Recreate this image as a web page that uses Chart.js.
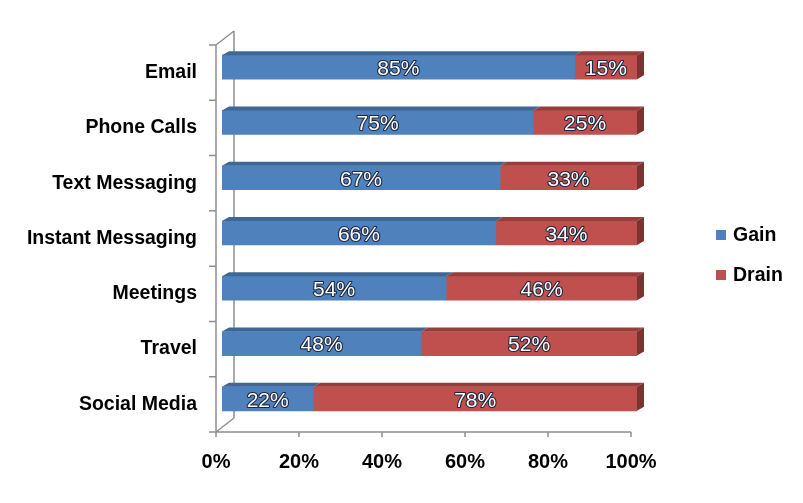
<!DOCTYPE html>
<html>
<head>
<meta charset="utf-8">
<script src="https://cdn.jsdelivr.net/npm/chart.js@4/dist/chart.umd.min.js"></script>
<style>
  body { margin: 0; background: #fff; }
  #wrap { width: 803px; height: 503px; }
</style>
</head>
<body>
<div id="wrap"><canvas id="barChart"></canvas></div>
<script>
// data
const categories = ["Email", "Phone Calls", "Text Messaging", "Instant Messaging", "Meetings", "Travel", "Social Media"];
const gainValues = [85, 75, 67, 66, 54, 48, 22];
const drainValues = [15, 25, 33, 34, 46, 52, 78];
const xTicks = [0, 20, 40, 60, 80, 100];

const FONT = "Arial, 'Liberation Sans', sans-serif";
const frontColors = ["#4F81BD", "#C0504D"];
const topColors = ["#3E6795", "#953E3C"];
const sideColor = "#7D3230";
const DEPTH_X = 7, DEPTH_Y = 4;

// 3D look: top faces + right side of the last segment, then the value labels
const bar3d = {
  id: "bar3d",
  beforeDatasetsDraw(chart) {
    const ctx = chart.ctx;
    const xs = chart.scales.x, ys = chart.scales.y;
    const fx = -6, fy = 5.5;   // front axis offset
    const bx = 12, by = -8.5;  // back wall offset
    const top = ys.top, bottom = ys.bottom;
    const x0 = xs.getPixelForValue(0);
    ctx.save();
    ctx.strokeStyle = "#8F8F8F";
    ctx.lineWidth = 1.5;
    ctx.beginPath();
    // front vertical axis
    ctx.moveTo(x0 + fx, top + fy);
    ctx.lineTo(x0 + fx, bottom + fy);
    // left ticks on category borders
    const n = categories.length;
    for (let i = 0; i <= n; i++) {
      const y = top + (bottom - top) * i / n + fy;
      ctx.moveTo(x0 + fx - 7, y);
      ctx.lineTo(x0 + fx, y);
    }
    // back wall edge
    ctx.moveTo(x0 + bx, top + by);
    ctx.lineTo(x0 + bx, bottom + by);
    ctx.moveTo(x0 + fx, top + fy);
    ctx.lineTo(x0 + bx, top + by);
    ctx.moveTo(x0 + fx, bottom + fy);
    ctx.lineTo(x0 + bx, bottom + by);
    // bottom axis with ticks
    const x100 = xs.getPixelForValue(100);
    ctx.moveTo(x0 + fx, bottom + fy);
    ctx.lineTo(x100 + fx, bottom + fy);
    xTicks.forEach((v) => {
      const x = xs.getPixelForValue(v) + fx;
      ctx.moveTo(x, bottom + fy);
      ctx.lineTo(x, bottom + fy + 5);
    });
    ctx.stroke();
    ctx.restore();
  },
  afterDatasetsDraw(chart) {
    const ctx = chart.ctx;
    const last = chart.data.datasets.length - 1;
    ctx.save();
    chart.data.datasets.forEach((ds, di) => {
      chart.getDatasetMeta(di).data.forEach((el) => {
        const h = el.height;
        const yt = el.y - h / 2, yb = el.y + h / 2;
        ctx.fillStyle = topColors[di];
        ctx.beginPath();
        ctx.moveTo(el.base, yt);
        ctx.lineTo(el.x, yt);
        ctx.lineTo(el.x + DEPTH_X, yt - DEPTH_Y);
        ctx.lineTo(el.base + DEPTH_X, yt - DEPTH_Y);
        ctx.closePath();
        ctx.fill();
        if (di === last) {
          ctx.fillStyle = sideColor;
          ctx.beginPath();
          ctx.moveTo(el.x, yt);
          ctx.lineTo(el.x + DEPTH_X, yt - DEPTH_Y);
          ctx.lineTo(el.x + DEPTH_X, yb - DEPTH_Y);
          ctx.lineTo(el.x, yb);
          ctx.closePath();
          ctx.fill();
        }
      });
    });
    // value labels
    ctx.font = "21px " + FONT;
    ctx.textAlign = "center";
    ctx.textBaseline = "middle";
    ctx.lineJoin = "round";
    chart.data.datasets.forEach((ds, di) => {
      chart.getDatasetMeta(di).data.forEach((el, i) => {
        const cx = (el.x + el.base) / 2;
        const cy = el.y + 2;
        const txt = ds.data[i] + "%";
        ctx.lineWidth = 2.2;
        ctx.strokeStyle = "#1B2740";
        ctx.strokeText(txt, cx, cy);
        ctx.fillStyle = "#FFFFFF";
        ctx.fillText(txt, cx, cy);
      });
    });
    ctx.restore();
  },
  afterDraw(chart) {
    // legend on the right
    const ctx = chart.ctx;
    const rows = [235, 275];
    ctx.save();
    ctx.font = "bold 19.5px " + FONT;
    ctx.textAlign = "left";
    ctx.textBaseline = "middle";
    chart.data.datasets.forEach((ds, di) => {
      const y = rows[di];
      ctx.fillStyle = ds.backgroundColor;
      ctx.fillRect(716, y - 5, 10, 10);
      ctx.fillStyle = "#000";
      ctx.fillText(ds.label, 733, y + 1);
    });
    ctx.restore();
  }
};

const ctx = document.getElementById("barChart").getContext("2d");
window.barChart = new Chart(ctx, {
  type: "bar",
  data: {
    labels: categories,
    datasets: [
      { label: "Gain", data: gainValues, backgroundColor: frontColors[0], borderWidth: 0 },
      { label: "Drain", data: drainValues, backgroundColor: frontColors[1], borderWidth: 0 },
    ],
  },
  options: {
    indexAxis: "y",
    responsive: true,
    maintainAspectRatio: false,
    animation: false,
    datasets: { bar: { barThickness: 24, categoryPercentage: 1 } },
    layout: { padding: { left: 0, top: 39.5, right: 166, bottom: 0 } },
    plugins: { legend: { display: false }, tooltip: { enabled: false } },
    scales: {
      x: {
        stacked: true,
        min: 0,
        max: 100,
        afterFit: (scale) => { scale.height = 76.5; },
        afterBuildTicks: (scale) => { scale.ticks = xTicks.map((v) => ({ value: v })); },
        grid: { display: false, drawTicks: false },
        border: { display: false },
        ticks: {
          padding: 24,
          labelOffset: -6,
          color: "#000",
          font: { family: FONT, size: 20, weight: "bold" },
          callback: (v) => v + "%",
        },
      },
      y: {
        stacked: true,
        afterFit: (scale) => { scale.width = 222; },
        grid: { display: false, drawTicks: false },
        border: { display: false },
        ticks: {
          padding: 25,
          labelOffset: 5.5,
          color: "#000",
          font: { family: FONT, size: 19.5, weight: "bold" },
        },
      },
    },
  },
  plugins: [bar3d],
});
</script>
</body>
</html>
